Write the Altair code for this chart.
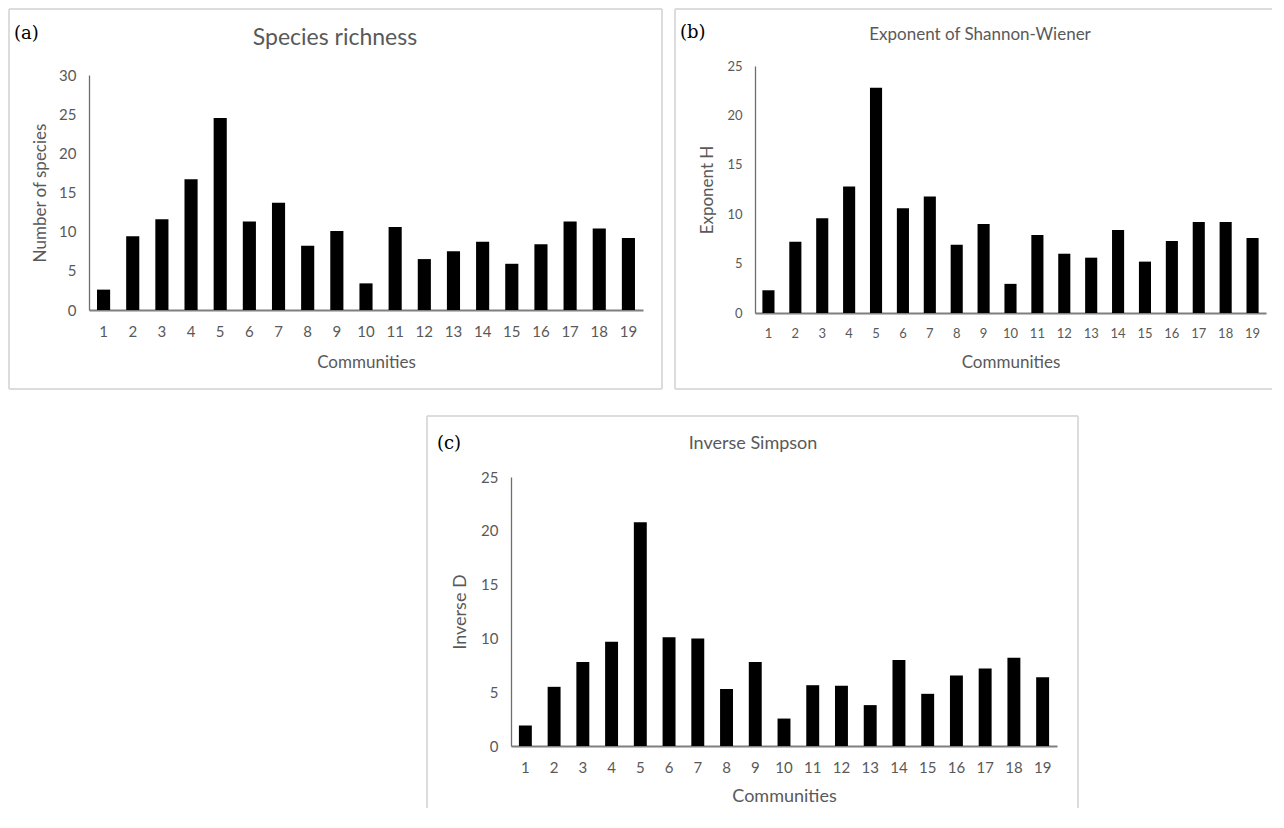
import altair as alt
import pandas as pd

communities = list(range(1, 20))
species_richness = [2.6, 9.4, 11.6, 16.7, 24.5, 11.3, 13.7, 8.2, 10.1, 3.4,
                    10.6, 6.5, 7.5, 8.7, 5.9, 8.4, 11.3, 10.4, 9.2]
exp_shannon = [2.3, 7.2, 9.6, 12.8, 22.8, 10.6, 11.8, 6.9, 9.0, 2.95,
               7.9, 6.0, 5.6, 8.4, 5.2, 7.3, 9.2, 9.2, 7.6]
inv_simpson = [1.9, 5.5, 7.8, 9.7, 20.8, 10.1, 10.0, 5.3, 7.8, 2.55,
               5.65, 5.6, 3.8, 8.0, 4.85, 6.55, 7.2, 8.2, 6.4]

GRAY = "#595959"
BOX = "#dcdcdc"
FONT = "Lato"
TAGFONT = "DejaVu Serif"

one = alt.Data(values=[{"k": 1}])


def rule(x, x2, y, y2):
    return alt.Chart(one).mark_rule(color=BOX, strokeWidth=2).encode(
        x=alt.value(x), x2=alt.value(x2), y=alt.value(y), y2=alt.value(y2))


def text(s, x, y, size, font=FONT, color=GRAY, align="center"):
    return alt.Chart(one).mark_text(
        font=font, fontSize=size, color=color, align=align, baseline="middle"
    ).encode(x=alt.value(x), y=alt.value(y), text=alt.value(s))


def panel(values, W, H, plot, ymax, ytitle, title, title_xy, title_size,
          tag, tag_xy, sides, box, tick_size, atitle_size,
          ylab_pad, ytitle_pad, xlab_pad, xtitle_pad):
    x0, x1, yt, yb = plot
    df = pd.DataFrame({"Communities": communities, "value": values})
    bars = alt.Chart(df).mark_bar(color="black").encode(
        x=alt.X("Communities:O",
                scale=alt.Scale(range=[x0, x1], paddingInner=0.55, paddingOuter=0.275),
                axis=alt.Axis(title="Communities", labelAngle=0, offset=-(H - yb),
                              ticks=False, domainColor="#7f7f7f", domainWidth=2,
                              labelFont=FONT, labelFontSize=tick_size, labelColor=GRAY,
                              labelPadding=xlab_pad, titleFont=FONT,
                              titleFontSize=atitle_size, titleFontWeight="normal",
                              titleColor=GRAY, titlePadding=xtitle_pad)),
        y=alt.Y("value:Q",
                scale=alt.Scale(domain=[0, ymax], range=[yb, yt], nice=False),
                axis=alt.Axis(title=ytitle, values=list(range(0, ymax + 1, 5)),
                              offset=-x0, ticks=False, grid=False,
                              domainColor="#6e6e6e", domainWidth=1.3,
                              labelFont=FONT, labelFontSize=tick_size, labelColor=GRAY,
                              labelPadding=ylab_pad, titleFont=FONT,
                              titleFontSize=atitle_size, titleFontWeight="normal",
                              titleColor=GRAY, titlePadding=ytitle_pad)),
    )
    bx0, by0, bx1, by1 = box
    layers = []
    if "top" in sides:
        layers.append(rule(bx0, bx1, by0, by0))
    if "left" in sides:
        layers.append(rule(bx0, bx0, by0, by1))
    if "right" in sides:
        layers.append(rule(bx1, bx1, by0, by1))
    if "bottom" in sides:
        layers.append(rule(bx0, bx1, by1, by1))
    layers.append(bars)
    layers.append(text(title, title_xy[0], title_xy[1], title_size))
    layers.append(text(tag, tag_xy[0], tag_xy[1], 18, font=TAGFONT, color="black", align="left"))
    return alt.layer(*layers).properties(width=W, height=H)


A = panel(species_richness, 655, 382, (81, 635, 67, 302), 30, "Number of species",
          "Species richness", (327, 30), 23, "(a)", (6, 26),
          ["top", "left", "right", "bottom"], (1, 1, 654, 381),
          15, 17, 13, 9, 14, 15)

B = panel(exp_shannon, 598, 382, (81, 592, 58, 305), 25, "Exponent H",
          "Exponent of Shannon-Wiener", (306, 27), 17, "(b)", (6, 25),
          ["top", "left", "bottom"], (1, 1, 598, 381),
          13, 17, 13, 10, 14, 14)

C = panel(inv_simpson, 1071, 393, (503, 1049, 62, 331), 25, "Inverse D",
          "Inverse Simpson", (745, 29), 18, "(c)", (429, 29),
          ["top", "left", "right"], (419, 1, 1070, 393),
          15, 18, 13, 11, 14, 12)

chart = alt.vconcat(
    alt.hconcat(A, B, spacing=11),
    C,
    spacing=25,
).properties(padding=0).configure_view(stroke=None)

chart.save("out.html", embed_options={"renderer": "svg", "actions": False})
